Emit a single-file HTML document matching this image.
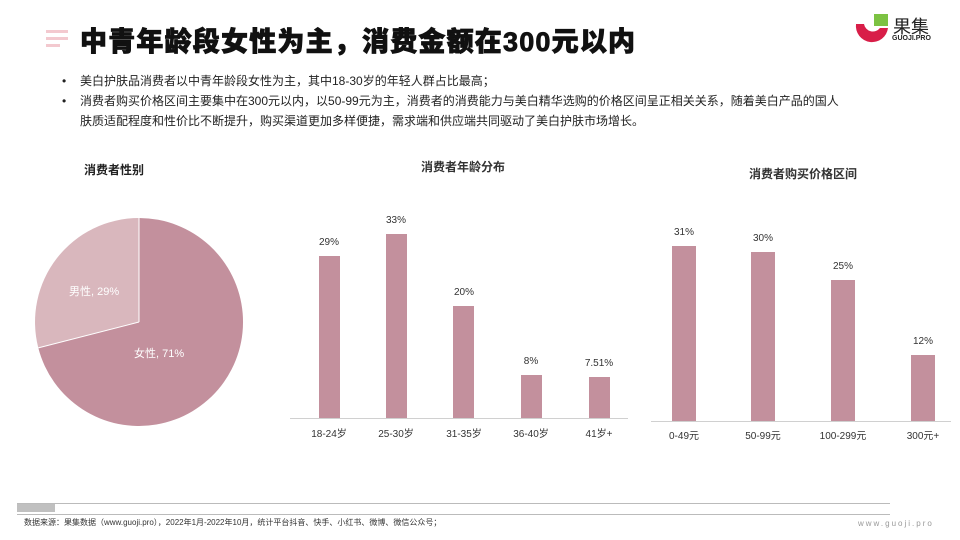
<!DOCTYPE html>
<html><head><meta charset="utf-8"><style>
body{margin:0;width:960px;height:540px;background:#fff;overflow:hidden;position:relative;font-family:"Liberation Sans","Noto Sans CJK SC",sans-serif;color:#222}
.t{position:absolute;white-space:nowrap}
</style></head><body>
<div class="t" style="left:46px;top:30px;width:22px;height:3px;background:#f3c9cf"></div>
<div class="t" style="left:46px;top:37px;width:22px;height:3px;background:#f3c9cf"></div>
<div class="t" style="left:46px;top:44px;width:14px;height:3px;background:#f3c9cf"></div>
<div class="t" style="left:80px;top:20px;font-size:27px;font-weight:900;color:#111;-webkit-text-stroke:0.8px #111;letter-spacing:1.2px">中青年龄段女性为主，消费金额在300元以内</div>
<svg class="t" style="left:852px;top:12px" width="40" height="36"><path d="M22 2h14v12H22z" fill="#7cc242"/><path d="M4 12a16 16 0 0 0 32 4h-8a9 9 0 0 1-16-4z" fill="#d81e48"/></svg>
<div class="t" style="left:893px;top:13px;font-size:18px;color:#222">果集</div>
<div class="t" style="left:892px;top:35px;font-size:7px;font-weight:bold">GUOJI.PRO</div>
<div class="t" style="left:62px;top:71px;font-size:12px;line-height:20px;color:#222">•<br>•</div>
<div class="t" style="left:80px;top:71px;font-size:12px;line-height:20px;color:#222">美白护肤品消费者以中青年龄段女性为主，其中18-30岁的年轻人群占比最高；<br>消费者购买价格区间主要集中在300元以内，以50-99元为主，消费者的消费能力与美白精华选购的价格区间呈正相关关系，随着美白产品的国人<br>肤质适配程度和性价比不断提升，购买渠道更加多样便捷，需求端和供应端共同驱动了美白护肤市场增长。</div>

<div class="t" style="left:84px;top:161px;font-size:12px;font-weight:bold">消费者性别</div>
<svg class="t" style="left:0;top:0" width="960" height="540">
<path d="M139 322 L139 218 A104 104 0 1 1 38.3 347.9 Z" fill="#c3909d"/>
<path d="M139 322 L38.3 347.9 A104 104 0 0 1 139 218 Z" fill="#d9b7bd"/>
<line x1="139" y1="218" x2="139" y2="322" stroke="#fff"/>
<line x1="139" y1="322" x2="38.3" y2="347.9" stroke="#fff"/>
<text x="69" y="295" font-size="11" fill="#fff" font-family="Liberation Sans,Noto Sans CJK SC,sans-serif">男性, 29%</text>
<text x="134" y="357" font-size="11" fill="#fff" font-family="Liberation Sans,Noto Sans CJK SC,sans-serif">女性, 71%</text>
<g fill="#c3909d">
<rect x="319" y="256" width="21" height="162"/>
<rect x="386" y="234" width="21" height="184"/>
<rect x="453" y="306" width="21" height="112"/>
<rect x="521" y="375" width="21" height="43"/>
<rect x="589" y="377" width="21" height="41"/>
<rect x="672" y="246" width="24" height="175"/>
<rect x="751" y="252" width="24" height="169"/>
<rect x="831" y="280" width="24" height="141"/>
<rect x="911" y="355" width="24" height="66"/>
</g>
<line x1="290" y1="418.5" x2="628" y2="418.5" stroke="#d0d0d0"/>
<line x1="651" y1="421.5" x2="951" y2="421.5" stroke="#d0d0d0"/>
<g font-size="10" fill="#333" text-anchor="middle" font-family="Liberation Sans,Noto Sans CJK SC,sans-serif">
<text x="329" y="245">29%</text><text x="396" y="223">33%</text><text x="464" y="295">20%</text><text x="531" y="364">8%</text><text x="599" y="366">7.51%</text>
<text x="329" y="437">18-24岁</text><text x="396" y="437">25-30岁</text><text x="464" y="437">31-35岁</text><text x="531" y="437">36-40岁</text><text x="599" y="437">41岁+</text>
<text x="684" y="235">31%</text><text x="763" y="241">30%</text><text x="843" y="269">25%</text><text x="923" y="344">12%</text>
<text x="684" y="439">0-49元</text><text x="763" y="439">50-99元</text><text x="843" y="439">100-299元</text><text x="923" y="439">300元+</text>
<text x="463" y="171" font-weight="bold" font-size="12">消费者年龄分布</text>
<text x="803" y="178" font-weight="bold" font-size="12">消费者购买价格区间</text>
</g>
<rect x="17" y="503" width="38" height="9" fill="#c0c0c0"/>
<line x1="17" y1="503.5" x2="890" y2="503.5" stroke="#bbb"/>
<line x1="17" y1="514.5" x2="890" y2="514.5" stroke="#bbb"/>
</svg>
<div class="t" style="left:24px;top:517px;font-size:8px;color:#333">数据来源：果集数据（www.guoji.pro），2022年1月-2022年10月，统计平台抖音、快手、小红书、微博、微信公众号；</div>
<div class="t" style="left:858px;top:519px;font-size:8px;color:#999;letter-spacing:2px">www.guoji.pro</div>
</body></html>
